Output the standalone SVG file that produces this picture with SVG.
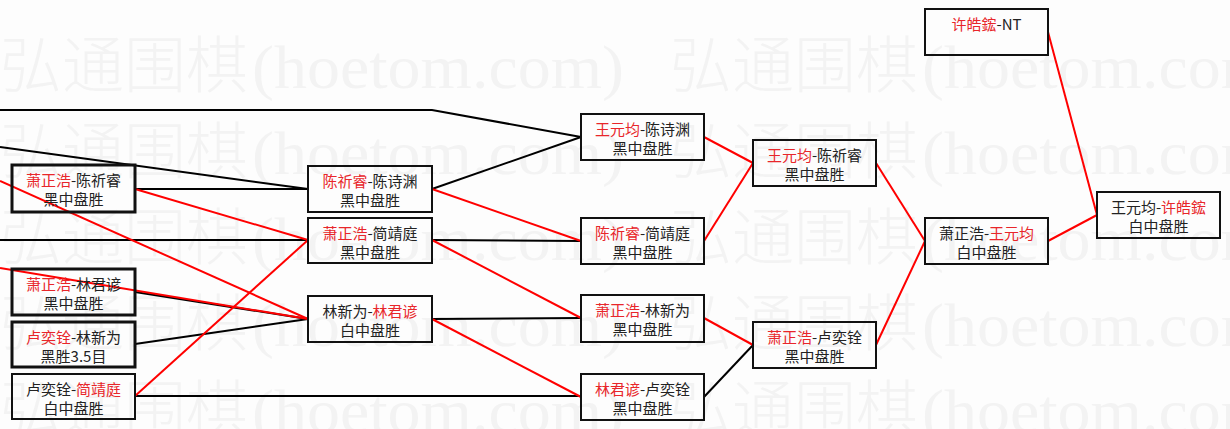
<svg xmlns="http://www.w3.org/2000/svg" width="1230" height="429" viewBox="0 0 1230 429">
<style>
.wm{font-family:"Noto Sans CJK SC","Noto Sans CJK JP",sans-serif;font-size:62px;font-weight:300;fill:#f3f3f3}
.wa{font-family:"Liberation Serif","Noto Sans CJK SC",serif;font-size:62px;fill:#f3f3f3}
.box{fill:none;stroke:#111;stroke-width:2}
.thick{stroke-width:3}
.t{font-family:"Noto Sans CJK SC","Noto Sans CJK JP",sans-serif;font-size:15px;fill:#222;text-anchor:middle}
.r{fill:#e8262a}
.k{stroke:#000;stroke-width:2;fill:none}
.rl{stroke:#f00;stroke-width:2;fill:none}
</style>
<rect width="1230" height="429" fill="#fdfdfd"/>
<g id="watermark">
<g transform="translate(0,88)"><text class="wm" x="0" y="0">弘通围棋</text><text class="wa" x="252" y="0" textLength="372" lengthAdjust="spacingAndGlyphs">(hoetom.com)</text><text class="wm" x="670" y="0">弘通围棋</text><text class="wa" x="922" y="0" textLength="372" lengthAdjust="spacingAndGlyphs">(hoetom.com)</text></g>
<g transform="translate(0,174)"><text class="wm" x="0" y="0">弘通围棋</text><text class="wa" x="252" y="0" textLength="372" lengthAdjust="spacingAndGlyphs">(hoetom.com)</text><text class="wm" x="670" y="0">弘通围棋</text><text class="wa" x="922" y="0" textLength="372" lengthAdjust="spacingAndGlyphs">(hoetom.com)</text></g>
<g transform="translate(0,260)"><text class="wm" x="0" y="0">弘通围棋</text><text class="wa" x="252" y="0" textLength="372" lengthAdjust="spacingAndGlyphs">(hoetom.com)</text><text class="wm" x="670" y="0">弘通围棋</text><text class="wa" x="922" y="0" textLength="372" lengthAdjust="spacingAndGlyphs">(hoetom.com)</text></g>
<g transform="translate(0,346)"><text class="wm" x="0" y="0">弘通围棋</text><text class="wa" x="252" y="0" textLength="372" lengthAdjust="spacingAndGlyphs">(hoetom.com)</text><text class="wm" x="670" y="0">弘通围棋</text><text class="wa" x="922" y="0" textLength="372" lengthAdjust="spacingAndGlyphs">(hoetom.com)</text></g>
<g transform="translate(0,432)"><text class="wm" x="0" y="0">弘通围棋</text><text class="wa" x="252" y="0" textLength="372" lengthAdjust="spacingAndGlyphs">(hoetom.com)</text><text class="wm" x="670" y="0">弘通围棋</text><text class="wa" x="922" y="0" textLength="372" lengthAdjust="spacingAndGlyphs">(hoetom.com)</text></g>
</g>
<g id="connectors">
<polyline class="k" points="0,110 432,110 581,137"/>
<line class="k" x1="0" y1="147" x2="308" y2="189"/>
<line class="k" x1="135" y1="189" x2="308" y2="189"/>
<line class="k" x1="0" y1="240" x2="308" y2="240"/>
<line class="k" x1="135" y1="292" x2="308" y2="319"/>
<line class="k" x1="135" y1="344" x2="308" y2="319"/>
<line class="k" x1="135" y1="396" x2="581" y2="396"/>
<line class="k" x1="432" y1="189" x2="581" y2="137"/>
<line class="k" x1="432" y1="240" x2="581" y2="241"/>
<line class="k" x1="432" y1="319" x2="581" y2="318"/>
<line class="k" x1="704" y1="397" x2="753" y2="345"/>
<line class="rl" x1="0" y1="181" x2="308" y2="319"/>
<line class="rl" x1="0" y1="268" x2="308" y2="319"/>
<line class="rl" x1="135" y1="189" x2="308" y2="240"/>
<line class="rl" x1="135" y1="396" x2="308" y2="240"/>
<line class="rl" x1="432" y1="189" x2="581" y2="241"/>
<line class="rl" x1="432" y1="240" x2="581" y2="318"/>
<line class="rl" x1="432" y1="319" x2="581" y2="397"/>
<line class="rl" x1="704" y1="137" x2="753" y2="163"/>
<line class="rl" x1="704" y1="241" x2="753" y2="163"/>
<line class="rl" x1="704" y1="318" x2="753" y2="345"/>
<line class="rl" x1="876" y1="163" x2="925" y2="241"/>
<line class="rl" x1="876" y1="345" x2="925" y2="241"/>
<line class="rl" x1="1048" y1="241" x2="1097" y2="215"/>
<line class="rl" x1="1048" y1="32" x2="1097" y2="215"/>
</g>
<g id="b1"><rect class="box thick" x="12" y="165" width="123" height="47"/><text class="t" x="73.5" y="186"><tspan class="r">萧正浩</tspan>-陈祈睿</text><text class="t" x="73.5" y="205">黑中盘胜</text></g>
<g id="b2"><rect class="box thick" x="12" y="269" width="123" height="46"/><text class="t" x="73.5" y="290"><tspan class="r">萧正浩</tspan>-林君谚</text><text class="t" x="73.5" y="309">黑中盘胜</text></g>
<g id="b3"><rect class="box thick" x="12" y="322" width="123" height="45"/><text class="t" x="73.5" y="343"><tspan class="r">卢奕铨</tspan>-林新为</text><text class="t" x="73.5" y="362">黑胜3.5目</text></g>
<g id="b4"><rect class="box" x="12" y="374" width="123" height="45"/><text class="t" x="73.5" y="395">卢奕铨-<tspan class="r">简靖庭</tspan></text><text class="t" x="73.5" y="414">白中盘胜</text></g>
<g id="c1"><rect class="box" x="308" y="166" width="124" height="46"/><text class="t" x="370" y="187"><tspan class="r">陈祈睿</tspan>-陈诗渊</text><text class="t" x="370" y="206">黑中盘胜</text></g>
<g id="c2"><rect class="box" x="308" y="218" width="124" height="45"/><text class="t" x="370" y="239"><tspan class="r">萧正浩</tspan>-简靖庭</text><text class="t" x="370" y="258">黑中盘胜</text></g>
<g id="c3"><rect class="box" x="308" y="296" width="124" height="46"/><text class="t" x="370" y="317">林新为-<tspan class="r">林君谚</tspan></text><text class="t" x="370" y="336">白中盘胜</text></g>
<g id="d1"><rect class="box" x="581" y="114" width="123" height="46"/><text class="t" x="642.5" y="135"><tspan class="r">王元均</tspan>-陈诗渊</text><text class="t" x="642.5" y="154">黑中盘胜</text></g>
<g id="d2"><rect class="box" x="581" y="218" width="123" height="46"/><text class="t" x="642.5" y="239"><tspan class="r">陈祈睿</tspan>-简靖庭</text><text class="t" x="642.5" y="258">黑中盘胜</text></g>
<g id="d3"><rect class="box" x="581" y="295" width="123" height="47"/><text class="t" x="642.5" y="316"><tspan class="r">萧正浩</tspan>-林新为</text><text class="t" x="642.5" y="335">黑中盘胜</text></g>
<g id="d4"><rect class="box" x="581" y="374" width="123" height="46"/><text class="t" x="642.5" y="395"><tspan class="r">林君谚</tspan>-卢奕铨</text><text class="t" x="642.5" y="414">黑中盘胜</text></g>
<g id="e1"><rect class="box" x="753" y="140" width="123" height="46"/><text class="t" x="814.5" y="161"><tspan class="r">王元均</tspan>-陈祈睿</text><text class="t" x="814.5" y="180">黑中盘胜</text></g>
<g id="e2"><rect class="box" x="753" y="322" width="123" height="46"/><text class="t" x="814.5" y="343"><tspan class="r">萧正浩</tspan>-卢奕铨</text><text class="t" x="814.5" y="362">黑中盘胜</text></g>
<g id="f0"><rect class="box" x="925" y="9" width="123" height="46"/><text class="t" x="986.5" y="30"><tspan class="r">许皓鋐</tspan>-NT</text></g>
<g id="f1"><rect class="box" x="925" y="218" width="123" height="46"/><text class="t" x="986.5" y="239">萧正浩-<tspan class="r">王元均</tspan></text><text class="t" x="986.5" y="258">白中盘胜</text></g>
<g id="g1"><rect class="box" x="1097" y="192" width="123" height="46"/><text class="t" x="1158.5" y="213">王元均-<tspan class="r">许皓鋐</tspan></text><text class="t" x="1158.5" y="232">白中盘胜</text></g>
</svg>
